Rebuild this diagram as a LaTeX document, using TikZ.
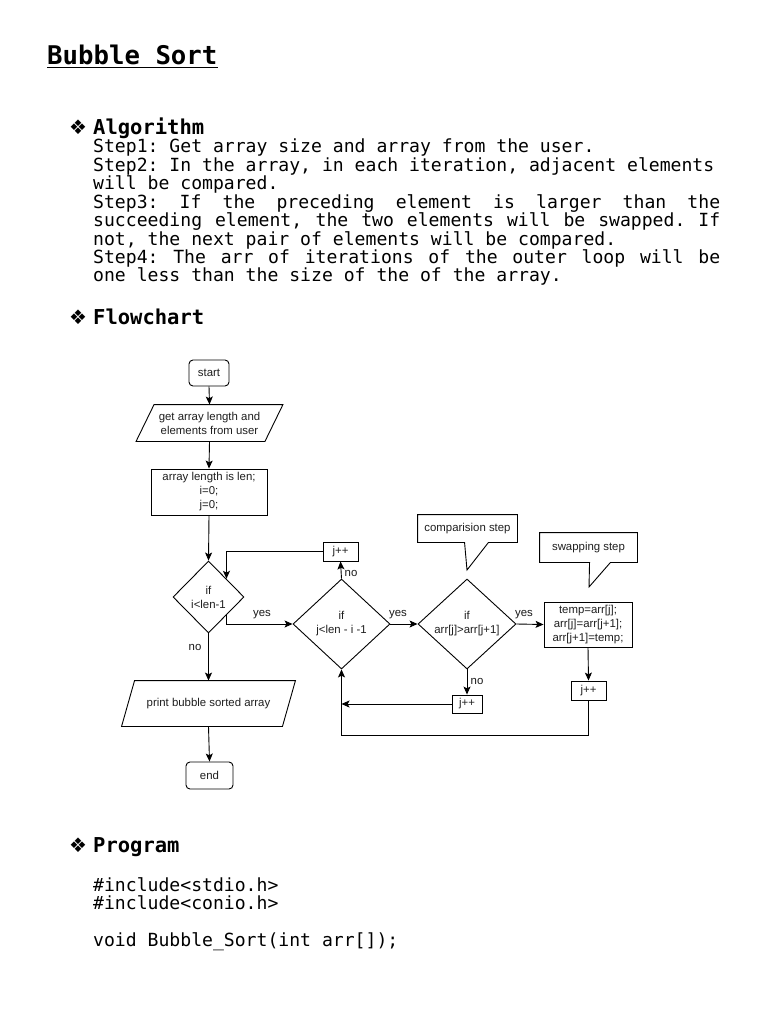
\documentclass[tikz,border=0pt]{standalone}
\usepackage{fontspec}
\setmainfont{Liberation Sans}
\setsansfont{Liberation Sans}
\setmonofont{DejaVu Sans Mono}
\newfontfamily\dingfont{DejaVu Sans}
\usetikzlibrary{shapes.geometric,arrows.meta,calc}
\newcommand\bodyfont{\ttfamily\fontsize{18.1}{20}\selectfont}
\newcommand\jline[1]{\hbox to 627pt{\spaceskip=\fontdimen2\font plus 1fil\xspaceskip=\fontdimen2\font plus 1fil\relax #1}}
\begin{document}
\begin{tikzpicture}[x=1pt,y=-1pt,
  fc/.style={font=\sffamily\fontsize{11.4}{14}\selectfont, text=black!88, line width=0.9pt, align=center},
  box/.style={fc, draw, inner sep=0},
  term/.style={box, rounded corners=4pt},
  dia/.style={fc, draw, diamond, inner sep=0},
  lab/.style={font=\sffamily\fontsize{11.4}{14}\selectfont, text=black!90, inner sep=1pt},
  arr/.style={line width=0.9pt, -{Stealth[length=8pt,width=7pt,inset=1.8pt]}},
  ln/.style={line width=0.9pt},
  body/.style={anchor=base west, inner sep=0, font=\bodyfont},
  head/.style={anchor=base west, inner sep=0, font=\ttfamily\bfseries\fontsize{20.5}{22}\selectfont},
  bul/.style={anchor=base west, inner sep=0, font=\dingfont\fontsize{20}{22}\selectfont}]
\useasboundingbox (0,0) rectangle (768,1024);
\fill[white] (0,0) rectangle (768,1024);

% ---- title
\node[anchor=base west, inner sep=0, font=\ttfamily\bfseries\fontsize{25.7}{28}\selectfont] (title) at (47,64.5) {Bubble Sort};
\draw[line width=1.3pt] ([yshift=-3pt]title.base west) -- ([yshift=-3pt]title.base east);

% ---- algorithm
\node[bul] (b1) at (69,135) {❖};
\node[head] (h1) at (93,135) {Algorithm};
\node[body] (l1) at (93,153) {Step1: Get array size and array from the user.};
\node[body] (l2) at (93,171.4) {Step2: In the array, in each iteration, adjacent elements};
\node[body] (l3) at (93,189.8) {will be compared.};
\node[body] (l4) at (93,208.2) {\jline{Step3: If the preceding element is larger than the}};
\node[body] (l5) at (93,226.6) {\jline{succeeding element, the two elements will be swapped. If}};
\node[body] (l6) at (93,245) {not, the next pair of elements will be compared.};
\node[body] (l7) at (93,263.4) {\jline{Step4: The arr of iterations of the outer loop will be}};
\node[body] (l8) at (93,281.8) {one less than the size of the of the array.};

% ---- flowchart heading
\node[bul] (b2) at (69,324) {❖};
\node[head] (h2) at (93,324) {Flowchart};

% ---- flowchart
\node[term, minimum width=40, minimum height=26] (start) at (209,373) {start};
\node[fc, inner sep=0, minimum width=128, minimum height=36] (in1) at (209.5,423) {get array length and\\elements from user};
\draw[ln] ([xshift=9pt]in1.north west) -- ([xshift=9pt]in1.north east) -- ([xshift=-9pt]in1.south east) -- ([xshift=-9pt]in1.south west) -- cycle;
\node[box, minimum width=116, minimum height=46] (init) at (209,492) {array length is len;\\i=0;\\j=0;};

\node[dia, minimum width=71, minimum height=72] (d1) at (208.5,597) {};
\node[fc, inner sep=0] (t1) at (d1) {if\\i<len-1};
\node[dia, minimum width=97, minimum height=90] (d2) at (341.5,624) {};
\node[fc, inner sep=0] (t2) at (d2) {if\\j<len - i -1};
\node[dia, minimum width=98, minimum height=90] (d3) at (467,624) {};
\node[fc, inner sep=0] (t3) at (d3) {if\\arr[j]>arr[j+1]};

\node[box, minimum width=88, minimum height=45] (swap) at (588,624.5) {temp=arr[j];\\arr[j]=arr[j+1];\\arr[j+1]=temp;};
\node[box, minimum width=35, minimum height=19] (jtop) at (340.5,551.5) {j++};
\node[box, minimum width=35, minimum height=19] (jsw) at (588.5,690.5) {j++};
\node[box, minimum width=30, minimum height=18] (jno) at (467,704) {j++};

\node[fc, inner sep=0, minimum width=160, minimum height=45] (out) at (208.5,703.5) {print bubble sorted array};
\draw[ln] ([xshift=6.5pt]out.north west) -- ([xshift=6.5pt]out.north east) -- ([xshift=-6.5pt]out.south east) -- ([xshift=-6.5pt]out.south west) -- cycle;
\node[term, minimum width=47, minimum height=27] (end) at (209.5,775.5) {end};

% callouts
\node[fc, inner sep=0, minimum width=99, minimum height=27] (cmp) at (467.5,528.5) {comparision step};
\coordinate (cmptip) at (467,570);
\draw[ln] (cmp.north west) -- (cmp.north east) -- (cmp.south east) -- ([xshift=-29pt]cmp.south east) -- (cmptip) -- ([xshift=47pt]cmp.south west) -- (cmp.south west) -- cycle;
\node[fc, inner sep=0, minimum width=97, minimum height=29] (swp) at (588.5,547.5) {swapping step};
\coordinate (swptip) at (589,587);
\draw[ln] (swp.north west) -- (swp.north east) -- (swp.south east) -- ([xshift=-27pt]swp.south east) -- (swptip) -- ([xshift=50pt]swp.south west) -- (swp.south west) -- cycle;

% connectors
\draw[arr] (start.south) -- (in1.north);
\draw[arr] (in1.south) -- (init.north);
\draw[arr] (init.south) -- (d1.north);
\draw[arr] ($(d1.east)!0.5!(d1.south)$) |- (d2.west);
\draw[arr] (d1.south) -- (out.north);
\draw[arr] (out.south) -- (end.north);
\draw[arr] (d2.north) -- (jtop.south);
\draw[arr] (jtop.west) -| ($(d1.north)!0.5!(d1.east)$);
\draw[arr] (d2.east) -- (d3.west);
\draw[arr] (d3.east) -- (swap.west);
\draw[arr] (d3.south) -- (jno.north);
\draw[arr] (swap.south) -- (jsw.north);
\draw[arr] (jsw.south) -- ++(0,35) -| (d2.south);
\draw[arr] (jno.west) -- (d2.south |- jno.west);

% labels
\node[lab] (y1) at (262,615) {yes};
\node[lab] (n1) at (195,647) {no};
\node[lab] (n2) at (351,573) {no};
\node[lab] (y2) at (398,615) {yes};
\node[lab] (y3) at (524,615) {yes};
\node[lab] (n3) at (477,681) {no};

% ---- program
\node[bul] (b3) at (69,852) {❖};
\node[head] (h3) at (93,852) {Program};
\node[body] (c1) at (93,891) {\#include<stdio.h>};
\node[body] (c2) at (93,909.5) {\#include<conio.h>};
\node[body] (c3) at (93,946.5) {void Bubble\_Sort(int arr[]);};
\end{tikzpicture}
\end{document}
